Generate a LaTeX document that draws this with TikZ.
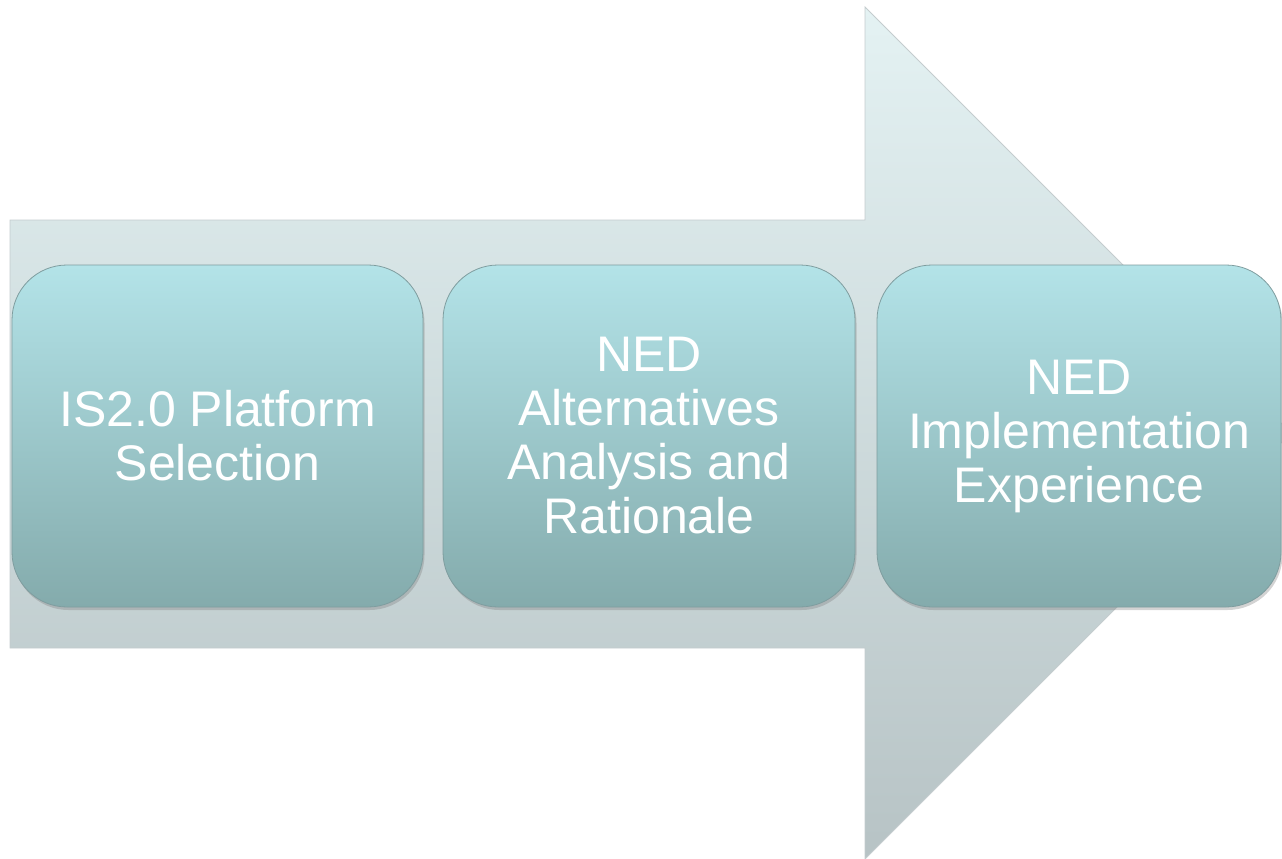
\documentclass[tikz,border=0pt]{standalone}
\usepackage{fontspec}
\setmainfont{Liberation Sans}
\usetikzlibrary{shadows}
\definecolor{arrowtop}{HTML}{E4F2F3}
\definecolor{arrowbot}{HTML}{B7C3C5}
\definecolor{arrowline}{HTML}{C4CCCE}
\definecolor{boxtop}{HTML}{B3E3E8}
\definecolor{boxbot}{HTML}{84ABAC}
\definecolor{boxline}{HTML}{7F9D9F}
\tikzset{
  stagebox/.style={draw=boxline, line width=0.8pt, rounded corners=55pt,
    top color=boxtop, bottom color=boxbot,
    minimum height=342pt, inner sep=0pt,
    text=white, align=center,
    font=\fontsize{50}{54}\selectfont,
    drop shadow={opacity=0.35, shadow xshift=1.5pt, shadow yshift=-3pt}},
  bigarrow/.style={draw=arrowline, line width=0.8pt, top color=arrowtop, bottom color=arrowbot}
}
\begin{document}
\begin{tikzpicture}[x=1pt,y=-1pt]
\useasboundingbox (0,0) rectangle (1282,859);
\path[bigarrow] (10,220) -- (865,220) -- (865,7) -- (1291,433) -- (865,859) -- (865,648) -- (10,648) -- cycle;
\node[stagebox, minimum width=411pt] (s1) at (217.5,436) {IS2.0 Platform\\Selection};
\node[stagebox, minimum width=412pt] (s2) at (649,436) {NED\\Alternatives\\Analysis and\\Rationale};
\node[stagebox, minimum width=404pt] (s3) at (1079,436) {NED\\Implementation\\Experience};
\end{tikzpicture}
\end{document}
